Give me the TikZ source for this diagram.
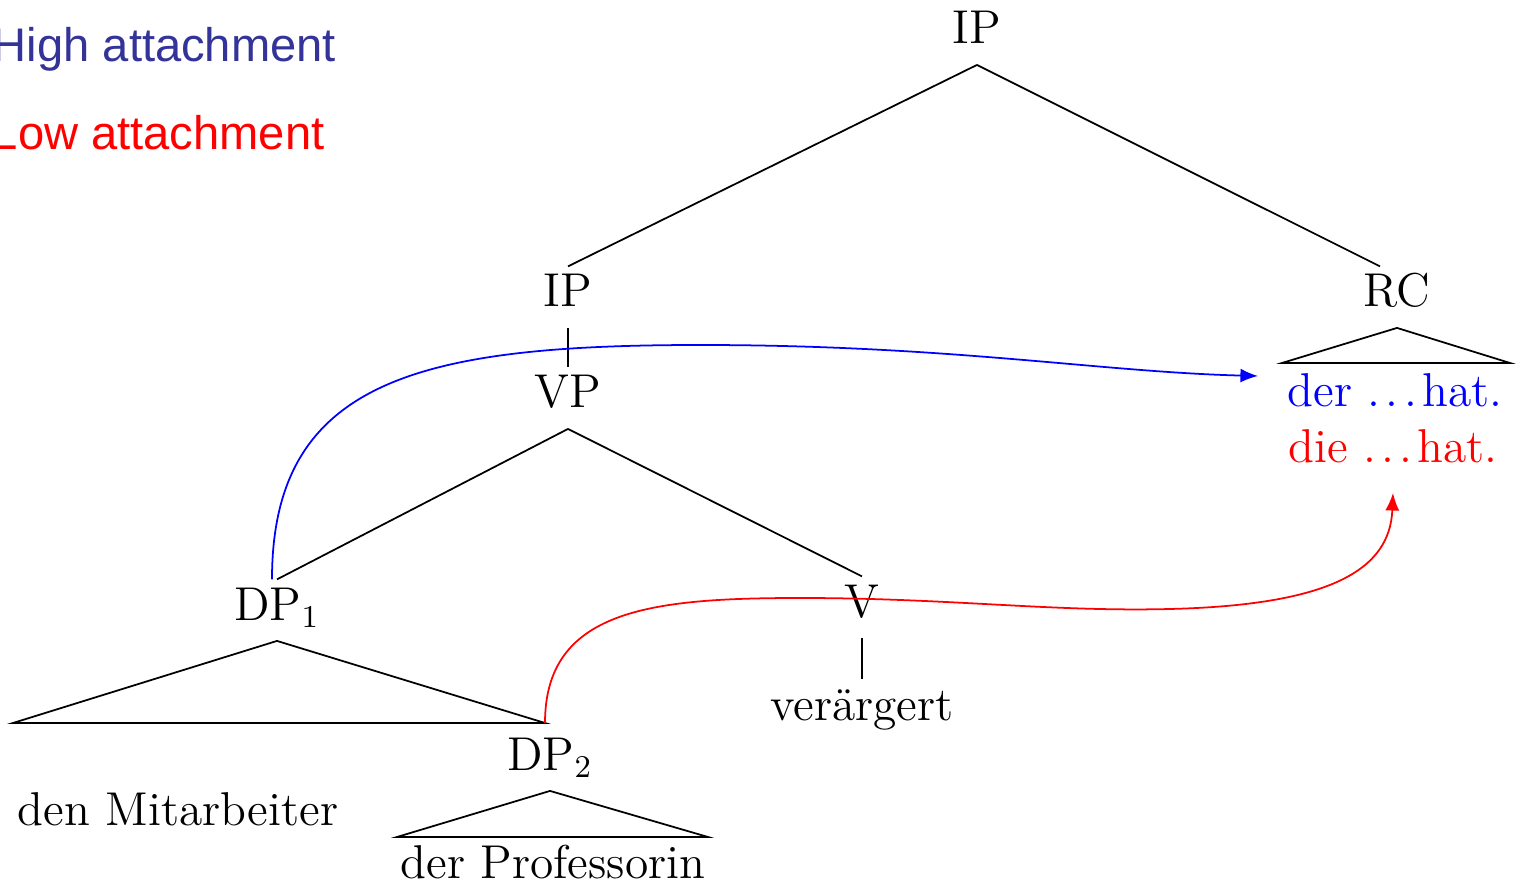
\documentclass[tikz,border=0pt]{standalone}
\usepackage{fontspec}
\usepackage{tkz-euclide}
\usetikzlibrary{arrows.meta}
\newfontfamily\labelfont{Liberation Sans}
\definecolor{highblue}{RGB}{51,51,153}
\newcommand{\rcdots}{.\kern.11em.\kern.11em.\kern.11em}

\begin{document}
\begin{tikzpicture}[x=0.01cm, y=-0.01cm, line width=0.5pt,
    cat/.style={inner xsep=0pt, inner ysep=2pt, text height=9.3pt, text depth=3.7pt,
      anchor=base, font=\fontsize{13.5}{16}\selectfont},
    attach/.style={anchor=base west, inner sep=0pt, font=\labelfont\fontsize{13.4}{16}\selectfont}]
    \useasboundingbox (0,0) rectangle (1517,885);
    \node[attach, text=highblue] (high) at (-8,62) {High attachment};
    \node[attach, text=red] (low) at (-9,150) {Low attachment};
    \node[cat] (ip) at (977,44) {IP};
    \node[cat] (ipl) at (568,307) {IP};
    \node[cat] (rc) at (1397,307) {RC};
    \node[cat] (vp) at (568,408) {VP};
    \node[cat] (dpa) at (277,620) {DP$_1$};
    \node[cat] (v) at (862,617) {V};
    \node[cat] (verb) at (862,720) {verärgert};
    \node[cat] (dpb) at (550,770) {DP$_2$};
    \node[cat] (mit) at (178,825) {den Mitarbeiter};
    \node[cat] (prof) at (553,878) {der Professorin};
    \node[cat, text=blue] (der) at (1395,407) {der \rcdots hat.};
    \node[cat, text=red] (die) at (1393,463) {die \rcdots hat.};
    \draw (ip.south) -- (ipl.north);
    \draw (ip.south) -- ([xshift=-0.17cm]rc.north);
    \draw (ipl.south) -- (vp.north);
    \draw (vp.south) -- (dpa.north);
    \draw (vp.south) -- (v.north);
    \draw (v.south) -- (verb.north);
    \tkzDefPoints{13/723/ma, 545/723/mb, 397/837/pa, 708/837/pb, 1282/363/ra, 1510/363/rb}
    \draw (dpa.south) -- (mb) -- (ma) -- cycle;
    \draw (dpb.south) -- (pb) -- (pa) -- cycle;
    \draw (rc.south) -- (rb) -- (ra) -- cycle;
    % the two readings
    \coordinate (hi) at (1258,376);
    \draw [blue, -{Latex[length=5pt,width=4pt]}] ([xshift=-0.05cm]dpa.north)
      .. controls (272,380) and (420,345) .. (700,345)
      .. controls (950,345) and (1100,372) .. (hi);
    \draw [red, -{Latex[length=5pt,width=4pt]}] (mb)
      .. controls (545,610) and (650,598) .. (800,598)
      .. controls (950,598) and (1050,612) .. (1170,609)
      .. controls (1330,605) and (1390,570) .. ([yshift=-0.09cm]die.south);
\end{tikzpicture}
\end{document}
